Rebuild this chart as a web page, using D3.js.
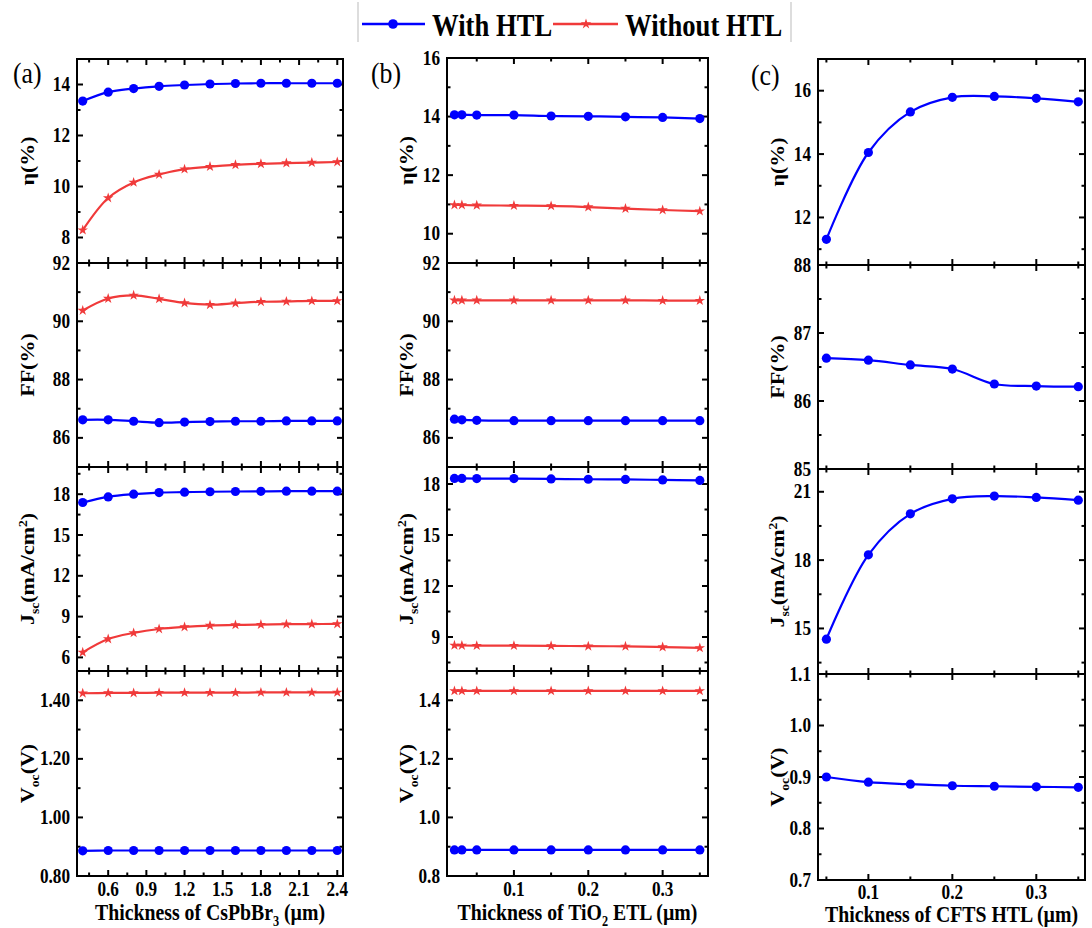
<!DOCTYPE html>
<html><head><meta charset="utf-8">
<script src="https://cdn.jsdelivr.net/npm/d3@7"></script>
<style>body{margin:0;background:#fff} text{font-family:"Liberation Serif","Times New Roman",serif;fill:#000}</style>
</head><body><svg id="c" width="1092" height="928"></svg>
<script>
// ---------------- DATA ----------------
const seriesNames = ["With HTL", "Without HTL"];

const xA = [0.4,0.6,0.8,1.0,1.2,1.4,1.6,1.8,2.0,2.2,2.4];
const etaWithA    = [13.35,13.70,13.84,13.93,13.98,14.02,14.04,14.05,14.05,14.05,14.05];
const etaWithoutA = [8.29,9.55,10.16,10.47,10.68,10.78,10.85,10.89,10.92,10.94,10.96];
const ffWithA     = [86.62,86.62,86.57,86.52,86.54,86.56,86.57,86.57,86.58,86.58,86.58];
const ffWithoutA  = [90.37,90.78,90.89,90.77,90.63,90.57,90.62,90.67,90.68,90.70,90.70];
const jscWithA    = [17.39,17.80,18.00,18.12,18.15,18.18,18.20,18.21,18.22,18.22,18.22];
const jscWithoutA = [6.37,7.35,7.80,8.09,8.24,8.34,8.39,8.41,8.44,8.45,8.46];
const vocWithA    = [0.886,0.887,0.887,0.887,0.887,0.887,0.887,0.887,0.887,0.887,0.887];
const vocWithoutA = [1.424,1.425,1.425,1.426,1.426,1.426,1.426,1.427,1.427,1.427,1.427];

const xB = [0.02,0.03,0.05,0.10,0.15,0.20,0.25,0.30,0.35];
const etaWithB    = [14.06,14.06,14.05,14.05,14.02,14.01,13.99,13.97,13.93];
const etaWithoutB = [10.98,10.98,10.97,10.96,10.95,10.91,10.86,10.81,10.77];
const ffWithB     = [86.64,86.62,86.60,86.59,86.59,86.59,86.59,86.59,86.59];
const ffWithoutB  = [90.72,90.72,90.72,90.72,90.72,90.72,90.72,90.71,90.71];
const jscWithB    = [18.33,18.33,18.32,18.32,18.30,18.28,18.27,18.24,18.21];
const jscWithoutB = [8.51,8.50,8.49,8.49,8.48,8.46,8.45,8.41,8.36];
const vocWithB    = [0.889,0.889,0.889,0.889,0.889,0.889,0.889,0.889,0.889];
const vocWithoutB = [1.432,1.432,1.432,1.432,1.432,1.432,1.432,1.432,1.432];

const xC = [0.05,0.10,0.15,0.20,0.25,0.30,0.35];
const etaWithC = [11.31,14.05,15.33,15.79,15.82,15.76,15.65];
const ffWithC  = [86.63,86.60,86.53,86.47,86.25,86.22,86.21];
const jscWithC = [14.53,18.23,20.03,20.69,20.81,20.75,20.63];
const vocWithC = [0.900,0.890,0.886,0.883,0.882,0.881,0.880];

// ---------------- STYLE / LAYOUT ----------------
const BLUE = "#0000ff", RED = "#f03a3a";
const SX = 0.86; // horizontal text compression of the original figure
const svg = d3.select("#c");

const titles = {
  eta: [{t:"η(%)"}],
  ff:  [{t:"FF(%)"}],
  jsc: [{t:"J"},{t:"sc",sub:true},{t:"(mA/cm"},{t:"2",sup:true},{t:")"}],
  voc: [{t:"V"},{t:"oc",sub:true},{t:"(V)"}]
};

const panels = [
  {label:"(a)", labelXY:[13,83], x:xA, xDomain:[0.355,2.445], xMajor:0.3, xMinor:0.15, xFmt:d3.format(".1f"),
   left:77, right:343, bounds:[59,263,467,671,876], titleX:28, xLabDy:20, xTitleY:920,
   xTitle:[{t:"Thickness of CsPbBr"},{t:"3",sub:true},{t:" (µm)"}],
   rows:[
    {key:"eta", domain:[7,15], major:2, minor:1, fmt:d3.format("d"), s:[[etaWithA,0],[etaWithoutA,1]]},
    {key:"ff", domain:[85,92], major:2, minor:1, fmt:d3.format("d"), s:[[ffWithA,0],[ffWithoutA,1]]},
    {key:"jsc", domain:[5,20], major:3, minor:1.5, fmt:d3.format("d"), s:[[jscWithA,0],[jscWithoutA,1]]},
    {key:"voc", domain:[0.8,1.5], major:0.2, minor:0.1, fmt:d3.format(".2f"), s:[[vocWithA,0],[vocWithoutA,1]]}
   ]},
  {label:"(b)", labelXY:[371,83], x:xB, xDomain:[0.01,0.361], xMajor:0.1, xMinor:0.05, xFmt:d3.format(".1f"),
   left:447, right:708, bounds:[58,263,467,671,876], titleX:407, xLabDy:20, xTitleY:920,
   xTitle:[{t:"Thickness of TiO"},{t:"2",sub:true},{t:" ETL (µm)"}],
   rows:[
    {key:"eta", domain:[9,16], major:2, minor:1, fmt:d3.format("d"), s:[[etaWithB,0],[etaWithoutB,1]]},
    {key:"ff", domain:[85,92], major:2, minor:1, fmt:d3.format("d"), s:[[ffWithB,0],[ffWithoutB,1]]},
    {key:"jsc", domain:[7,19], major:3, minor:1.5, fmt:d3.format("d"), s:[[jscWithB,0],[jscWithoutB,1]]},
    {key:"voc", domain:[0.8,1.5], major:0.2, minor:0.1, fmt:d3.format(".1f"), s:[[vocWithB,0],[vocWithoutB,1]]}
   ]},
  {label:"(c)", labelXY:[751,85], x:xC, xDomain:[0.04,0.358], xMajor:0.1, xMinor:0.05, xFmt:d3.format(".1f"),
   left:818, right:1085, bounds:[59,265,469,674,880], titleX:778, xLabDy:19, xTitleY:922,
   xTitle:[{t:"Thickness of CFTS HTL (µm)"}],
   rows:[
    {key:"eta", domain:[10.5,17], major:2, minor:1, fmt:d3.format("d"), s:[[etaWithC,0]]},
    {key:"ff", domain:[85,88], major:1, minor:0.5, fmt:d3.format("d"), s:[[ffWithC,0]]},
    {key:"jsc", domain:[13,22], major:3, minor:1.5, fmt:d3.format("d"), s:[[jscWithC,0]]},
    {key:"voc", domain:[0.7,1.1], major:0.1, minor:0.05, fmt:d3.format(".1f"), s:[[vocWithC,0]]}
   ]}
];

function multiples(d, step){
  const out=[]; const k0=Math.ceil(d[0]/step-1e-6), k1=Math.floor(d[1]/step+1e-6);
  for(let k=k0;k<=k1;k++) out.push(+(k*step).toFixed(6));
  return out;
}
function minorsOf(d, step, major){
  return multiples(d, step).filter(v => !multiples(d, major).some(m => Math.abs(m-v)<1e-6));
}
function addParts(textSel, parts, size){
  const sub = size*0.62, down = size*0.26, up = -size*0.38;
  parts.forEach(p=>{ p._shift = p.sub ? down : (p.sup ? up : 0); });
  parts.forEach((p,i)=>{
    const ts = textSel.append("tspan").text(p.t).attr("font-size", (p.sub||p.sup)?sub:size);
    const prev = i>0 ? parts[i-1]._shift : 0;
    const dy = p._shift - prev;
    if(dy!==0) ts.attr("dy", dy);
  });
}
function hText(g, x, y, anchor, size, weight, parts){
  const t = g.append("text").attr("transform",`translate(${x},${y}) scale(${SX},1)`)
    .attr("text-anchor",anchor).attr("font-weight",weight).attr("font-size",size);
  if(typeof parts==="string") t.text(parts); else addParts(t, parts, size);
  return t;
}

panels.forEach(P=>{
  const g = svg.append("g");
  const x = d3.scaleLinear().domain(P.xDomain).range([P.left, P.right]);
  const xMaj = multiples(P.xDomain, P.xMajor), xMin = minorsOf(P.xDomain, P.xMinor, P.xMajor);

  P.rows.forEach((R, ri)=>{
    const top = P.bounds[ri], bot = P.bounds[ri+1];
    const y = d3.scaleLinear().domain(R.domain).range([bot, top]);
    const yMaj = multiples(R.domain, R.major), yMin = minorsOf(R.domain, R.minor, R.major);
    const tg = g.append("g").attr("stroke","#000").attr("stroke-width",2);
    const ML=6, mL=3.5;
    xMaj.forEach(v=>{ const px=x(v);
      tg.append("line").attr("x1",px).attr("x2",px).attr("y1",bot).attr("y2",bot-ML);
      tg.append("line").attr("x1",px).attr("x2",px).attr("y1",top).attr("y2",top+ML); });
    xMin.forEach(v=>{ const px=x(v);
      tg.append("line").attr("x1",px).attr("x2",px).attr("y1",bot).attr("y2",bot-mL);
      tg.append("line").attr("x1",px).attr("x2",px).attr("y1",top).attr("y2",top+mL); });
    yMaj.forEach(v=>{ const py=y(v);
      tg.append("line").attr("x1",P.left).attr("x2",P.left+ML).attr("y1",py).attr("y2",py);
      tg.append("line").attr("x1",P.right).attr("x2",P.right-ML).attr("y1",py).attr("y2",py); });
    yMin.forEach(v=>{ const py=y(v);
      tg.append("line").attr("x1",P.left).attr("x2",P.left+mL).attr("y1",py).attr("y2",py);
      tg.append("line").attr("x1",P.right).attr("x2",P.right-mL).attr("y1",py).attr("y2",py); });
    yMaj.forEach(v=> hText(g, P.left-7, y(v)+6.6, "end", 20, "bold", R.fmt(v)));

    const clipId = `clip${P.label[1]}${ri}`;
    g.append("clipPath").attr("id",clipId).append("rect")
      .attr("x",P.left).attr("y",top).attr("width",P.right-P.left).attr("height",bot-top);
    const sg = g.append("g").attr("clip-path",`url(#${clipId})`);
    R.s.slice().reverse().forEach(([vals, si])=>{
      const col = si===0?BLUE:RED;
      const pts = P.x.map((xv,i)=>[x(xv), y(vals[i])]);
      sg.append("path").attr("d", d3.line().curve(d3.curveCatmullRom.alpha(0.5))(pts))
        .attr("fill","none").attr("stroke",col).attr("stroke-width",2.2);
      if(si===0){
        sg.selectAll(null).data(pts).enter().append("circle")
          .attr("cx",d=>d[0]).attr("cy",d=>d[1]).attr("r",4.6).attr("fill",col);
      } else {
        const star = d3.symbol().type(d3.symbolStar).size(34)();
        sg.selectAll(null).data(pts).enter().append("path").attr("d",star)
          .attr("transform",d=>`translate(${d[0]},${d[1]})`).attr("fill",col);
      }
    });

    g.append("rect").attr("x",P.left).attr("y",top).attr("width",P.right-P.left).attr("height",bot-top)
      .attr("fill","none").attr("stroke","#000").attr("stroke-width",2);

    const ty = g.append("text")
      .attr("transform",`translate(${P.titleX},${(top+bot)/2}) rotate(-90) scale(1,${SX})`)
      .attr("text-anchor","middle").attr("font-weight","bold").attr("font-size",22).attr("y",7.5);
    addParts(ty, titles[R.key].map(o=>Object.assign({},o)), 22);
  });

  const bottom = P.bounds[4];
  xMaj.forEach(v=> hText(g, x(v), bottom+P.xLabDy, "middle", 20, "bold", P.xFmt(v)));
  hText(g, (P.left+P.right)/2, P.xTitleY, "middle", 23, "bold", P.xTitle.map(o=>Object.assign({},o)));
  g.append("text").attr("x",P.labelXY[0]).attr("y",P.labelXY[1]).attr("font-size",30)
    .attr("transform",`translate(${P.labelXY[0]*(1-SX)},0) scale(${SX},1)`).text(P.label);
});

// ---------------- LEGEND ----------------
const lg = svg.append("g");
lg.append("line").attr("x1",358).attr("x2",358).attr("y1",2).attr("y2",42).attr("stroke","#bbb").attr("stroke-width",1);
lg.append("line").attr("x1",791).attr("x2",791).attr("y1",2).attr("y2",42).attr("stroke","#bbb").attr("stroke-width",1);
lg.append("line").attr("x1",362).attr("x2",425).attr("y1",24).attr("y2",24).attr("stroke",BLUE).attr("stroke-width",2.5);
lg.append("circle").attr("cx",393).attr("cy",24).attr("r",4.8).attr("fill",BLUE);
hText(lg, 432, 36, "start", 31, "bold", seriesNames[0]);
lg.append("line").attr("x1",553).attr("x2",618).attr("y1",24).attr("y2",24).attr("stroke",RED).attr("stroke-width",2.5);
lg.append("path").attr("d",d3.symbol().type(d3.symbolStar).size(34)()).attr("transform","translate(586,24)").attr("fill",RED);
hText(lg, 625, 36, "start", 31, "bold", seriesNames[1]);
</script></body></html>
